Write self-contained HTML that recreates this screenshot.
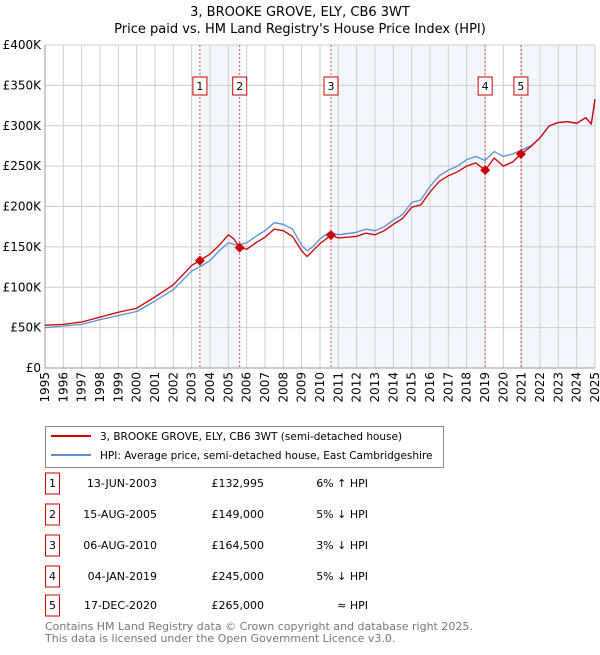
<!DOCTYPE html>
<html><head><meta charset="utf-8"><style>
body{margin:0;background:#fff;font-family:"Liberation Sans","DejaVu Sans",sans-serif;}
text{font-family:"DejaVu Sans","Liberation Sans",sans-serif;}
</style></head><body>
<svg id="chart" width="600" height="650" xmlns="http://www.w3.org/2000/svg">
<text x="300" y="16" text-anchor="middle" font-size="13">3, BROOKE GROVE, ELY, CB6 3WT</text>
<text x="300" y="33" text-anchor="middle" font-size="13">Price paid vs. HM Land Registry's House Price Index (HPI)</text>
<g id="plot"></g>
<g>
<rect x="45.5" y="426.5" width="398" height="41" fill="#fff" stroke="#888"/>
<line x1="51" y1="436" x2="91" y2="436" stroke="#cc0000" stroke-width="2"/>
<text x="100" y="440" font-size="10.5">3, BROOKE GROVE, ELY, CB6 3WT (semi-detached house)</text>
<line x1="51" y1="455" x2="91" y2="455" stroke="#5b8fd6" stroke-width="2"/>
<text x="100" y="459" font-size="10.5">HPI: Average price, semi-detached house, East Cambridgeshire</text>
</g>
<g id="table"></g>
<text x="45" y="630" font-size="11" fill="#777">Contains HM Land Registry data © Crown copyright and database right 2025.</text>
<text x="45" y="642" font-size="11" fill="#777">This data is licensed under the Open Government Licence v3.0.</text>
</svg>
<script>
const hpiDates=[1995,1996,1997,1998,1999,2000,2001,2002,2003,2003.5,2004,2004.5,2005,2005.5,2006,2006.5,2007,2007.5,2008,2008.5,2009,2009.3,2009.6,2010,2010.5,2011,2012,2012.5,2013,2013.5,2014,2014.5,2015,2015.5,2016,2016.5,2017,2017.5,2018,2018.5,2019,2019.5,2020,2020.5,2021,2021.5,2022,2022.5,2023,2023.5,2024,2024.5,2024.8,2025];
const hpiValues=[50,52,54,60,65,70,83,97,120,126,133,145,155,152,155,163,170,180,178,172,152,145,150,160,168,165,168,172,170,175,183,190,205,208,225,238,245,250,258,262,257,268,262,265,270,275,285,300,304,305,303,310,302,333];
const propDates=[1995,1996,1997,1998,1999,2000,2001,2002,2003,2003.45,2004,2004.5,2005,2005.3,2005.62,2006,2006.5,2007,2007.5,2008,2008.5,2009,2009.3,2009.6,2010,2010.6,2011,2012,2012.5,2013,2013.5,2014,2014.5,2015,2015.5,2016,2016.5,2017,2017.5,2018,2018.5,2019.01,2019.5,2020,2020.5,2020.96,2021.5,2022,2022.5,2023,2023.5,2024,2024.5,2024.8,2025];
const propValues=[53,54,57,63,69,74,88,103,127,133,141,152,165,160,149,147,155,162,172,170,163,145,138,145,154,164.5,161,163,167,165,170,178,185,199,202,218,231,238,243,250,254,245,260,250,255,265,274,285,300,304,305,303,310,302,333];
const saleDates=[2003.45,2005.62,2010.6,2019.01,2020.96];
const saleValues=[132.995,149,164.5,245,265];
const saleLabels=["13-JUN-2003","15-AUG-2005","06-AUG-2010","04-JAN-2019","17-DEC-2020"];
const salePrices=["£132,995","£149,000","£164,500","£245,000","£265,000"];
const saleHpi=["6% ↑ HPI","5% ↓ HPI","3% ↓ HPI","5% ↓ HPI","≈ HPI"];
const yTicks=[0,50,100,150,200,250,300,350,400];
const yTickLabels=["£0","£50K","£100K","£150K","£200K","£250K","£300K","£350K","£400K"];
const xTicks=[1995,1996,1997,1998,1999,2000,2001,2002,2003,2004,2005,2006,2007,2008,2009,2010,2011,2012,2013,2014,2015,2016,2017,2018,2019,2020,2021,2022,2023,2024,2025];

const NS="http://www.w3.org/2000/svg";
const L=45,R=595,T=45,B=368;
const xs=d=>L+(d-1995)/30*(R-L);
const ys=v=>B-v/400*(B-T);
function mk(tag,attrs,parent){const e=document.createElementNS(NS,tag);for(const k in attrs)e.setAttribute(k,attrs[k]);parent.appendChild(e);return e;}
const g=document.getElementById('plot');
const shades=[[0,1],[2,3],[4,null]];
shades.forEach(([a,b])=>{const x1=xs(saleDates[a]),x2=b===null?R:xs(saleDates[b]);
const r=mk('rect',{x:x1,y:T,width:x2-x1,height:B-T,fill:'#eef3fc',opacity:0.7},g);

});
yTicks.forEach((v,i)=>{const y=ys(v);
const l=mk('line',{x1:L,x2:R,y1:y,y2:y,stroke:'#ccc','stroke-width':1},g);


const t=mk('text',{x:L-4,y:y+4,'text-anchor':'end','font-size':12},g);t.textContent=yTickLabels[i];

});
xTicks.forEach(d=>{const x=xs(d);
const l=mk('line',{x1:x,x2:x,y1:T,y2:B,stroke:'#ccc','stroke-width':1},g);


const t=mk('text',{x:0,y:0,'text-anchor':'end','font-size':12,transform:`translate(${x+4},${B+4}) rotate(-90)`},g);t.textContent=d;

});
const ax=mk('path',{d:`M${L},${T}V${B}H${R}`,stroke:'#999',fill:'none'},g);


saleDates.forEach((d,i)=>{const x=xs(d);
const l=mk('line',{x1:x,x2:x,y1:T,y2:B,stroke:'#e05050','stroke-dasharray':'2,2','stroke-width':1},g);


const r=mk('rect',{x:x-7,y:77,width:14,height:18,fill:'#fff',stroke:'#cc0000'},g);


const t=mk('text',{x:x,y:90,'text-anchor':'middle','font-size':11},g);t.textContent=i+1;

});
function line(ds,vs,col,name){const p=mk('path',{d:ds.map((d,i)=>(i?'L':'M')+xs(d).toFixed(1)+','+ys(vs[i]).toFixed(1)).join(''),stroke:col,'stroke-width':1.3,fill:'none','stroke-linejoin':'round'},g);

}
line(hpiDates,hpiValues,'#5b8fd6','hpi-line');
line(propDates,propValues,'#cc0000','property-line');
saleDates.forEach((d,i)=>{const x=xs(d),y=ys(saleValues[i]);
const p=mk('path',{d:`M${x},${y-5}L${x+5},${y}L${x},${y+5}L${x-5},${y}Z`,fill:'#cc0000'},g);

});
const tb=document.getElementById('table');
const rowsY=[483,514,545,576,605];
saleLabels.forEach((s,i)=>{const y=rowsY[i];
const r=mk('rect',{x:45.5,y:y-10,width:14,height:21,fill:'#fff',stroke:'#cc0000'},tb);


const cells=[[52.5,'middle',String(i+1)],[157,'end',s],[264,'end',salePrices[i]],[368,'end',saleHpi[i]]];
cells.forEach(c=>{const t=mk('text',{x:c[0],y:y+4,'text-anchor':c[1],'font-size':11},tb);t.textContent=c[2];

});});
</script>
</body></html>
